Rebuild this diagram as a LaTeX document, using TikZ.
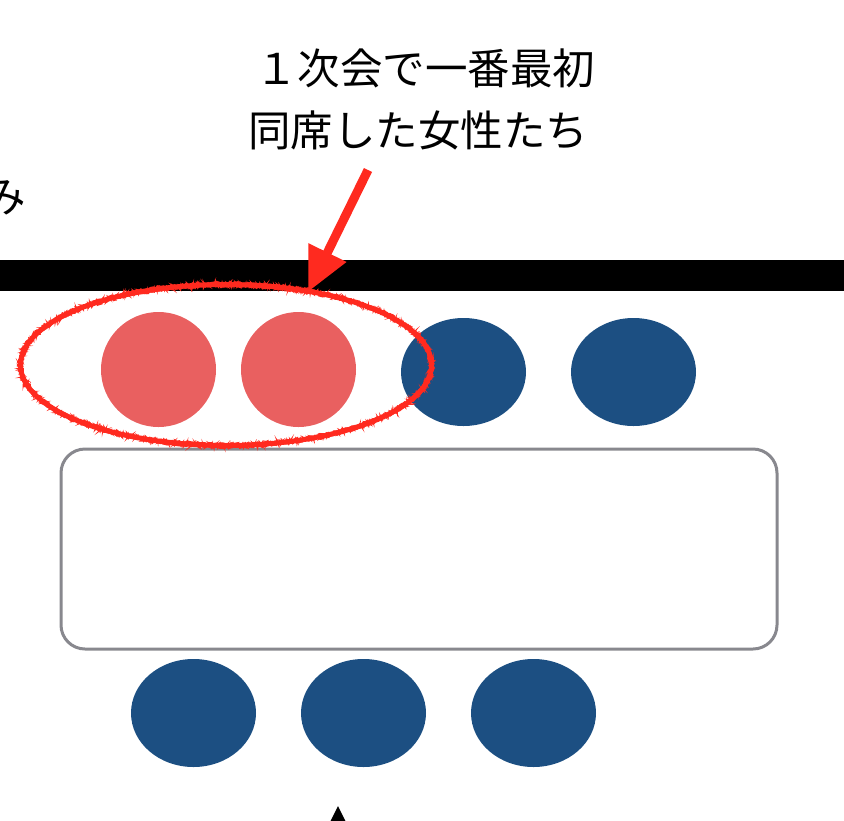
\documentclass[tikz,border=0pt]{standalone}
\usepackage{fontspec}
\newfontfamily\jp{Noto Sans CJK JP}
\usetikzlibrary{decorations.pathmorphing,arrows.meta,shapes.geometric}
\definecolor{seatblue}{HTML}{1C4F82}
\definecolor{seatpink}{HTML}{E96060}
\definecolor{markred}{HTML}{FF2A1F}
\definecolor{tablegray}{HTML}{88888E}
\begin{document}
\begin{tikzpicture}[x=1pt,y=-1pt,
  blueseat/.style={ellipse, fill=seatblue, minimum width=125pt, minimum height=108pt, inner sep=0pt},
  pinkseat/.style={circle, fill=seatpink, minimum size=115pt, inner sep=0pt},
  jptext/.style={font=\jp\fontsize{42.5}{50}\selectfont, inner sep=0pt},
  fuzz/.style={markred, line width=1.2pt, decorate, decoration={random steps, segment length=0.8pt, amplitude=2.6pt}}]
\useasboundingbox (0,0) rectangle (844,820);
\clip (0,0) rectangle (844,820);
% wall bar
\fill[black] (0,260) rectangle (844,291);
% partial word at left
\node[jptext, anchor=center] (cut) at (5,198) {み};
% caption
\node[jptext] (cap1) at (425,68) {１次会で一番最初};
\node[jptext] (cap2) at (418,130) {同席した女性たち};
% table
\draw[tablegray, line width=3pt, rounded corners=24pt] (61,449) rectangle (777,649);
\node[inner sep=0pt] (table) at (419,549) {};
% seats
\node[pinkseat] (p1) at (158.5,369.5) {};
\node[pinkseat] (p2) at (298.5,369.5) {};
\node[blueseat] (b1) at (463.5,372) {};
\node[blueseat] (b2) at (633.5,372) {};
\node[blueseat] (b3) at (193.5,713) {};
\node[blueseat] (b4) at (363.5,713) {};
\node[blueseat] (b5) at (533.5,713) {};
% rough red ellipse
\draw[markred, line width=5pt] (226,365) ellipse [x radius=205.5pt, y radius=80.5pt];
\draw[fuzz] (226,365) ellipse [x radius=205.5pt, y radius=80.5pt];
\draw[fuzz] (226,365) ellipse [x radius=206pt, y radius=81pt];
\draw[fuzz] (226,365) ellipse [x radius=205pt, y radius=80pt];
% red arrow
\coordinate (as) at (368,170);
\coordinate (ae) at (308,292);
\draw[markred, line width=9pt, -{Triangle[length=44pt, width=40pt]}] (as) -- (ae);
% bottom black triangle
\fill[black] (338,806) -- (330,822) -- (346,822) -- cycle;
\end{tikzpicture}
\end{document}
